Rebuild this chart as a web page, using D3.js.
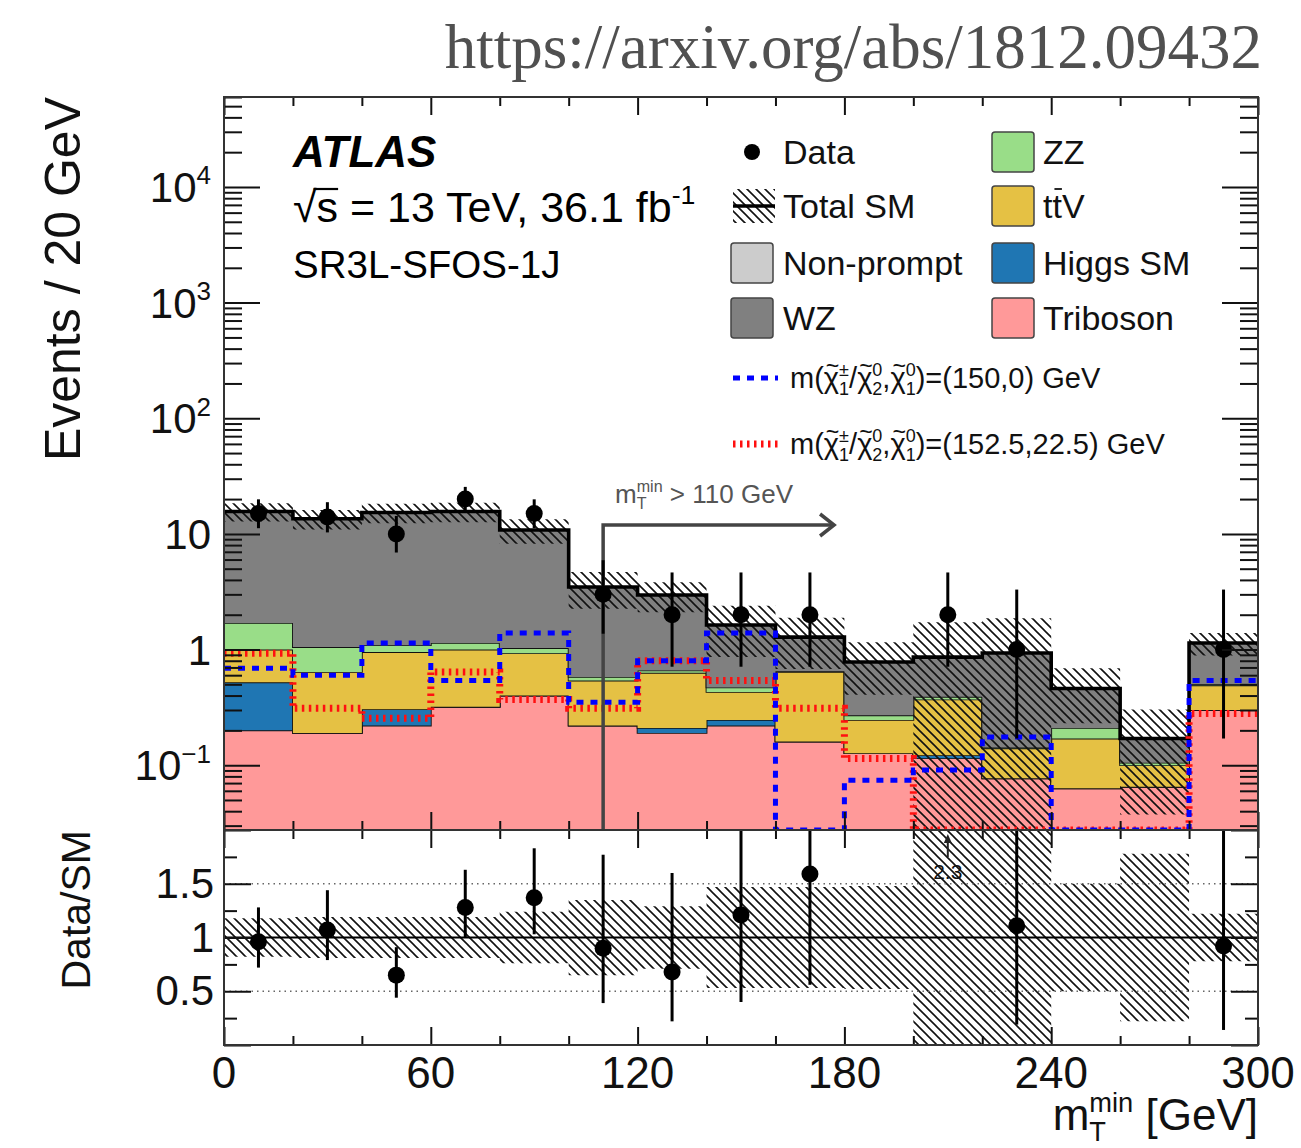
<!DOCTYPE html>
<html>
<head>
<meta charset="utf-8">
<script src="https://cdn.jsdelivr.net/npm/d3@7/dist/d3.min.js"></script>
<style>html,body{margin:0;padding:0;background:#fff;} svg{display:block;}</style>
</head>
<body>
<svg id="chart" width="1301" height="1148"></svg>
<script>
// ---------------- data ----------------
const binLow    = [0,20,40,60,80,100,120,140,160,180,200,220,240,260,280];
const binWidth  = 20;
const triboson  = [0.20,0.19,0.22,0.32,0.40,0.22,0.19,0.22,0.16,0.127,0.115,0.077,0.063,0.065,0.30];
const higgsSM   = [0.32,0.0,0.085,0.0,0.0,0.0,0.02,0.026,0.0,0.0,0.007,0.0,0.0,0.0,0.0];
const ttV       = [0.48,0.45,0.645,0.68,0.53,0.32,0.42,0.184,0.48,0.119,0.248,0.063,0.107,0.035,0.19];
const zz        = [0.70,0.41,0.14,0.14,0.10,0.04,0.03,0.04,0.01,0.024,0.02,0.002,0.04,0.005,0.01];
const wz        = [13.9,12.45,14.2,14.46,9.77,2.89,2.30,1.16,0.63,0.51,0.47,0.79,0.25,0.065,0.64];
const nonPrompt = [0,0,0,0,0,0,0,0,0,0,0,0,0,0,0];
const totalRelUnc = [0.18,0.19,0.19,0.19,0.24,0.35,0.29,0.47,0.47,0.48,1.0,1.0,0.5,0.78,0.22];

const sigA = [0.69,0.60,1.14,0.54,1.39,0.35,0.80,1.39,0,0.074,0.091,0.175,0,0,0.54];   // (150,0)
const sigB = [0.93,0.31,0.255,0.64,0.37,0.31,0.80,0.54,0.31,0.114,0,0,0,0,0.28];      // (152.5,22.5)

const dataCounts = [15,14,10,20,15,3,2,2,2,0,2,1,0,0,1];
const dataLo     = [11.2,10.3,6.9,15.6,11.2,1.37,0.71,0.71,0.71,null,0.71,0.17,null,null,0.17];
const dataHi     = [19.9,18.8,14.3,25.5,19.9,5.92,4.64,4.64,4.64,null,4.64,3.30,null,null,3.30];

const ratio   = [0.96,1.07,0.65,1.28,1.37,0.90,0.68,1.21,1.59,null,2.3,1.11,null,null,0.92];
const ratioLo = [0.72,0.79,0.44,1.00,1.03,0.39,0.22,0.40,0.56,null,null,0.19,null,null,0.14];
const ratioHi = [1.28,1.44,0.91,1.63,1.83,1.77,1.60,2.85,3.60,null,null,3.55,null,null,2.90];

const xMajorTicks = [0,60,120,180,240,300];
const xMinorTicks = [20,40,80,100,140,160,200,220,260,280];
const yMajorTicks = [0.1,1,10,100,1000,10000];
const yTickLabels = [["10","\u22121"],["1",""],["10",""],["10","2"],["10","3"],["10","4"]];
const rMajorTicks = [0,0.5,1,1.5,2];
const rTickLabels = ["","0.5","1","1.5",""];
const rMinorTicks = [0.25,0.75,1.25,1.75];

// ---------------- setup ----------------
const FONT = "'Liberation Sans', Arial, Helvetica, sans-serif";
const svg = d3.select("#chart");
const L = 224, R = 1258, T = 97, MID = 830, B = 1045;
const yMin = 0.0275, yMax = 6.0e4;
const x  = d3.scaleLinear().domain([0,300]).range([L,R]);
const y  = d3.scaleLog().domain([yMin,yMax]).range([MID,T]);
const yv = v => y(Math.max(v, yMin*0.999));
const yr = d3.scaleLinear().domain([0,2]).range([B,MID]).clamp(true);

const defs = svg.append("defs");
defs.append("clipPath").attr("id","clipMain").append("rect").attr("x",L).attr("y",T).attr("width",R-L).attr("height",MID-T);
defs.append("clipPath").attr("id","clipRatio").append("rect").attr("x",L).attr("y",MID).attr("width",R-L).attr("height",B-MID);
const pat = defs.append("pattern").attr("id","hatch").attr("patternUnits","userSpaceOnUse").attr("width",9).attr("height",9);
pat.append("path").attr("d","M-1,-1 L10,10 M-1,8 L1,10 M8,-1 L10,1").attr("stroke","#111").attr("stroke-width",1.6).attr("fill","none");

// rich text helper: parts are strings, {tilde} or {sup, sub}
function rich(parent, px, py, parts, fs, attrs = {}) {
  const t = parent.append("text").attr("x",px).attr("y",py).attr("font-size",fs).attr("font-family",FONT);
  Object.entries(attrs).forEach(([k,v]) => t.attr(k,v));
  let off = 0, pendingDx = 0;
  const sfs = fs*0.62;
  parts.forEach(p => {
    if (typeof p === "string" || p.tilde != null) {
      const ts = t.append("tspan").attr("dy", 0 - off).text(typeof p === "string" ? p : p.tilde);
      if (pendingDx) ts.attr("dx", pendingDx);
      off = 0; pendingDx = 0;
      if (p.tilde != null) {
        const wC = ts.node().getComputedTextLength();
        const o = -fs*0.5;
        const tt = t.append("tspan").attr("font-size", fs*0.8).attr("dy", o - off).text("~");
        const wT = tt.node().getComputedTextLength();
        tt.attr("dx", -(wC/2 + wT/2) + fs*0.04);
        off = o; pendingDx = wC/2 - wT/2 - fs*0.04;
      }
    } else {
      let wSup = 0, wSub = 0;
      if (p.sup != null) {
        const o = -fs*0.42;
        const ts = t.append("tspan").attr("font-size",sfs).attr("dy", o - off).text(p.sup);
        if (pendingDx) ts.attr("dx", pendingDx);
        pendingDx = 0; off = o;
        wSup = ts.node().getComputedTextLength();
      }
      if (p.sub != null) {
        const o = fs*0.24;
        const ts = t.append("tspan").attr("font-size",sfs).attr("dy", o - off).attr("dx", -wSup + pendingDx).text(p.sub);
        pendingDx = 0; off = o;
        wSub = ts.node().getComputedTextLength();
        if (wSup > wSub) pendingDx = wSup - wSub;
      }
    }
  });
  return t;
}

// ---------------- stack ----------------
const rows = binLow.map((b,i) => ({bin:b, Triboson:triboson[i], Higgs:higgsSM[i], ttV:ttV[i], ZZ:zz[i], WZ:wz[i], NonPrompt:nonPrompt[i]}));
const keys = ["Triboson","Higgs","ttV","ZZ","WZ","NonPrompt"];
const colors = {Triboson:"#ff9999", Higgs:"#1f76b3", ttV:"#e5c144", ZZ:"#99dd88", WZ:"#808080", NonPrompt:"#cccccc"};
const series = d3.stack().keys(keys)(rows);

function stepPts(lo, hi) {
  const p = binLow.map((b,i) => ({x:b, lo:lo[i], hi:hi[i]}));
  p.push({x:binLow[binLow.length-1]+binWidth, lo:lo[lo.length-1], hi:hi[hi.length-1]});
  return p;
}
const area = d3.area().curve(d3.curveStepAfter).x(d => x(d.x)).y0(d => yv(d.lo)).y1(d => yv(d.hi));
const line = d3.line().curve(d3.curveStepAfter).x(d => x(d.x)).y(d => yv(d.hi));

const gMain = svg.append("g").attr("clip-path","url(#clipMain)");
series.forEach(s => {
  const lo = s.map(d => d[0]), hi = s.map(d => d[1]);
  const pts = stepPts(lo, hi);
  gMain.append("path").attr("d", area(pts)).attr("fill", colors[s.key]).attr("stroke","none");
  if (d3.sum(s, d => d[1]-d[0]) > 0 && s.key !== "WZ")
    gMain.append("path").attr("d", line(pts)).attr("fill","none").attr("stroke","#111").attr("stroke-width",1.8);
});
const total = series[series.length-1].map(d => d[1]);

// uncertainty band
const bandPts = stepPts(total.map((t,i) => t*(1-totalRelUnc[i])), total.map((t,i) => t*(1+totalRelUnc[i])));
gMain.append("path").attr("d", area(bandPts)).attr("fill","url(#hatch)");
// total line
gMain.append("path").attr("d", line(stepPts(total,total))).attr("fill","none").attr("stroke","#000").attr("stroke-width",3.6);

// signals
gMain.append("path").attr("d", line(stepPts(sigB,sigB))).attr("fill","none").attr("stroke","#ff1010").attr("stroke-width",7).attr("stroke-dasharray","2.5,4.5");
gMain.append("path").attr("d", line(stepPts(sigA,sigA))).attr("fill","none").attr("stroke","#0000ff").attr("stroke-width",5).attr("stroke-dasharray","7,7");

// mT arrow
const xCut = x(110);
svg.append("path").attr("d",`M${xCut},${MID} L${xCut},525 L${x(177)},525`).attr("fill","none").attr("stroke","#444").attr("stroke-width",3.5);
svg.append("path").attr("d",`M${x(177)-14},514 L${x(177)},525 L${x(177)-14},536`).attr("fill","none").attr("stroke","#444").attr("stroke-width",3.5);
rich(svg, 615, 503, ["m",{sup:"min",sub:"T"}," > 110 GeV"], 26, {fill:"#555"});

// data points
const gData = svg.append("g");
dataCounts.forEach((n,i) => {
  if (!(n > 0)) return;
  const cx = x(binLow[i] + binWidth/2);
  gData.append("line").attr("x1",cx).attr("x2",cx).attr("y1",yv(dataLo[i])).attr("y2",yv(dataHi[i])).attr("stroke","#000").attr("stroke-width",3);
  gData.append("circle").attr("cx",cx).attr("cy",yv(n)).attr("r",8.5).attr("fill","#000");
});

// ---------------- ratio panel ----------------
const gRatio = svg.append("g").attr("clip-path","url(#clipRatio)");
const rArea = d3.area().curve(d3.curveStepAfter).x(d => x(d.x)).y0(d => yr(d.lo)).y1(d => yr(d.hi));
gRatio.append("path").attr("d", rArea(stepPts(totalRelUnc.map(r => 1-r), totalRelUnc.map(r => 1+r)))).attr("fill","url(#hatch)");
[0.5,1.5].forEach(v => gRatio.append("line").attr("x1",L).attr("x2",R).attr("y1",yr(v)).attr("y2",yr(v))
  .attr("stroke","#666").attr("stroke-width",1.5).attr("stroke-dasharray","1.5,4"));
gRatio.append("line").attr("x1",L).attr("x2",R).attr("y1",yr(1)).attr("y2",yr(1)).attr("stroke","#000").attr("stroke-width",2.2);

ratio.forEach((r,i) => {
  if (r == null) return;
  const cx = x(binLow[i] + binWidth/2);
  if (r > 2) {
    svg.append("line").attr("x1",cx).attr("x2",cx).attr("y1",857).attr("y2",840).attr("stroke","#222").attr("stroke-width",2);
    svg.append("path").attr("d",`M${cx-4},843 L${cx},834 L${cx+4},843 Z`).attr("fill","#222");
    svg.append("text").attr("x",cx).attr("y",879).attr("text-anchor","middle").attr("font-size",21)
      .attr("font-family",FONT).attr("fill","#111").text(String(r));
    return;
  }
  gRatio.append("line").attr("x1",cx).attr("x2",cx).attr("y1",yr(ratioLo[i])).attr("y2",yr(ratioHi[i])).attr("stroke","#000").attr("stroke-width",3);
  gRatio.append("circle").attr("cx",cx).attr("cy",yr(r)).attr("r",8.5).attr("fill","#000");
});

// ---------------- axes ----------------
function styleAxis(g) {
  g.select(".domain").remove();
  g.selectAll("line").attr("stroke","#111").attr("stroke-width",2);
}
const yMinorTicks = [];
[0.01,0.1,1,10,100,1000,10000].forEach(d => [2,3,4,5,6,7,8,9].forEach(k => { const v = k*d; if (v >= yMin && v <= yMax) yMinorTicks.push(v); }));

svg.append("g").attr("transform",`translate(${L},0)`).call(d3.axisRight(y).tickValues(yMajorTicks).tickSize(36).tickSizeOuter(0).tickFormat("")).call(styleAxis);
svg.append("g").attr("transform",`translate(${L},0)`).call(d3.axisRight(y).tickValues(yMinorTicks).tickSize(18).tickSizeOuter(0).tickFormat("")).call(styleAxis);
svg.append("g").attr("transform",`translate(${R},0)`).call(d3.axisLeft(y).tickValues(yMajorTicks).tickSize(36).tickSizeOuter(0).tickFormat("")).call(styleAxis);
svg.append("g").attr("transform",`translate(${R},0)`).call(d3.axisLeft(y).tickValues(yMinorTicks).tickSize(18).tickSizeOuter(0).tickFormat("")).call(styleAxis);

svg.append("g").attr("transform",`translate(${L},0)`).call(d3.axisRight(yr).tickValues(rMajorTicks).tickSize(27).tickSizeOuter(0).tickFormat("")).call(styleAxis);
svg.append("g").attr("transform",`translate(${L},0)`).call(d3.axisRight(yr).tickValues(rMinorTicks).tickSize(13).tickSizeOuter(0).tickFormat("")).call(styleAxis);
svg.append("g").attr("transform",`translate(${R},0)`).call(d3.axisLeft(yr).tickValues(rMajorTicks).tickSize(27).tickSizeOuter(0).tickFormat("")).call(styleAxis);
svg.append("g").attr("transform",`translate(${R},0)`).call(d3.axisLeft(yr).tickValues(rMinorTicks).tickSize(13).tickSizeOuter(0).tickFormat("")).call(styleAxis);

[[T,"bottom"],[MID,"top"],[MID,"bottom"],[B,"top"]].forEach(([py,dir]) => {
  const mk = dir === "bottom" ? d3.axisBottom : d3.axisTop;
  svg.append("g").attr("transform",`translate(0,${py})`).call(mk(x).tickValues(xMajorTicks).tickSize(18).tickSizeOuter(0).tickFormat("")).call(styleAxis);
  svg.append("g").attr("transform",`translate(0,${py})`).call(mk(x).tickValues(xMinorTicks).tickSize(9).tickSizeOuter(0).tickFormat("")).call(styleAxis);
});

// frames
svg.append("rect").attr("x",L).attr("y",T).attr("width",R-L).attr("height",MID-T).attr("fill","none").attr("stroke","#333").attr("stroke-width",2);
svg.append("rect").attr("x",L).attr("y",MID).attr("width",R-L).attr("height",B-MID).attr("fill","none").attr("stroke","#333").attr("stroke-width",2);

// tick labels
yMajorTicks.forEach((v,i) => {
  const [base, sup] = yTickLabels[i];
  const parts = sup ? [base, {sup:sup}] : [base];
  rich(svg, 211, y(v) + 15, parts, 42, {"text-anchor":"end", fill:"#111"});
});
rMajorTicks.forEach((v,i) => {
  if (!rTickLabels[i]) return;
  svg.append("text").attr("x",214).attr("y",yr(v)+14).attr("text-anchor","end").attr("font-size",42)
    .attr("font-family",FONT).attr("fill","#111").text(rTickLabels[i]);
});
xMajorTicks.forEach(v => {
  svg.append("text").attr("x",x(v)).attr("y",1088).attr("text-anchor","middle").attr("font-size",44)
    .attr("font-family",FONT).attr("fill","#111").text(String(v));
});

// axis titles
svg.append("text").attr("transform",`translate(80,${T}) rotate(-90)`).attr("text-anchor","end").attr("font-size",50)
  .attr("font-family",FONT).attr("fill","#111").text("Events / 20 GeV");
svg.append("text").attr("transform",`translate(90,${MID}) rotate(-90)`).attr("text-anchor","end").attr("font-size",41)
  .attr("font-family",FONT).attr("fill","#111").text("Data/SM");
rich(svg, R, 1130, ["m",{sup:"min",sub:"T"}," [GeV]"], 44, {"text-anchor":"end", fill:"#111"});

// ---------------- labels ----------------
svg.append("text").attr("x",1262).attr("y",68).attr("text-anchor","end").attr("font-size",63)
  .attr("font-family","'Liberation Serif', 'DejaVu Serif', serif").attr("fill","#505050").text("https://arxiv.org/abs/1812.09432");

svg.append("text").attr("x",293).attr("y",167).attr("font-size",44).attr("font-weight","bold").attr("font-style","italic")
  .attr("font-family",FONT).attr("fill","#000").text("ATLAS");
const sq = rich(svg, 293, 222, ["\u221As = 13 TeV, 36.1 fb",{sup:"-1"}], 43, {fill:"#000"});
{
  const n = sq.select("tspan").node();
  const e0 = n.getExtentOfChar(0), e1 = n.getExtentOfChar(1);
  svg.append("line").attr("x1",e0.x+e0.width-3).attr("x2",e1.x+e1.width).attr("y1",222-33).attr("y2",222-33).attr("stroke","#000").attr("stroke-width",2.2);
}
svg.append("text").attr("x",293).attr("y",278).attr("font-size",38.5).attr("font-family",FONT).attr("fill","#000").text("SR3L-SFOS-1J");

// legend
const legendCol1 = ["Data","Total SM","Non-prompt","WZ"];
const legendCol2 = ["ZZ","ttV","Higgs SM","Triboson"];
const legendKeys2 = ["ZZ","ttV","Higgs","Triboson"];
const rowY = [152,206,263,318];
const LFS = 34;
const gLeg = svg.append("g");
gLeg.append("circle").attr("cx",752).attr("cy",rowY[0]).attr("r",8).attr("fill","#000");
gLeg.append("rect").attr("x",733).attr("y",rowY[1]-17).attr("width",42).attr("height",34).attr("fill","url(#hatch)");
gLeg.append("line").attr("x1",733).attr("x2",775).attr("y1",rowY[1]).attr("y2",rowY[1]).attr("stroke","#000").attr("stroke-width",3.5);
gLeg.append("rect").attr("x",731).attr("y",rowY[2]-20).attr("width",42).attr("height",40).attr("rx",3).attr("fill",colors.NonPrompt).attr("stroke","#444").attr("stroke-width",1.5);
gLeg.append("rect").attr("x",731).attr("y",rowY[3]-20).attr("width",42).attr("height",40).attr("rx",3).attr("fill",colors.WZ).attr("stroke","#444").attr("stroke-width",1.5);
legendCol1.forEach((t,i) => gLeg.append("text").attr("x",783).attr("y",rowY[i]+12).attr("font-size",LFS).attr("font-family",FONT).attr("fill","#111").text(t));
legendCol2.forEach((t,i) => {
  gLeg.append("rect").attr("x",992).attr("y",rowY[i]-20).attr("width",42).attr("height",40).attr("rx",3)
    .attr("fill",colors[legendKeys2[i]]).attr("stroke","#444").attr("stroke-width",1.5);
  const tx = gLeg.append("text").attr("x",1043).attr("y",rowY[i]+12).attr("font-size",LFS).attr("font-family",FONT).attr("fill","#111").text(t);
  if (t === "ttV") {
    const e1 = tx.node().getExtentOfChar(1);
    gLeg.append("line").attr("x1",e1.x+2).attr("x2",e1.x+e1.width).attr("y1",rowY[i]+12-29).attr("y2",rowY[i]+12-29).attr("stroke","#111").attr("stroke-width",1.8);
  }
});
// signal legend
function sigLabel(vals) {
  return ["m(", {tilde:"\u03C7"}, {sup:"\u00B1",sub:"1"}, "/", {tilde:"\u03C7"}, {sup:"0",sub:"2"}, ",", {tilde:"\u03C7"}, {sup:"0",sub:"1"}, ")=(" + vals + ") GeV"];
}
gLeg.append("line").attr("x1",733).attr("x2",778).attr("y1",378).attr("y2",378).attr("stroke","#0000ff").attr("stroke-width",5).attr("stroke-dasharray","7,7");
rich(gLeg, 790, 388, sigLabel("150,0"), 29, {fill:"#111"});
gLeg.append("line").attr("x1",733).attr("x2",778).attr("y1",444).attr("y2",444).attr("stroke","#ff1010").attr("stroke-width",7).attr("stroke-dasharray","2.5,4.5");
rich(gLeg, 790, 454, sigLabel("152.5,22.5"), 29, {fill:"#111"});
</script>
</body>
</html>
